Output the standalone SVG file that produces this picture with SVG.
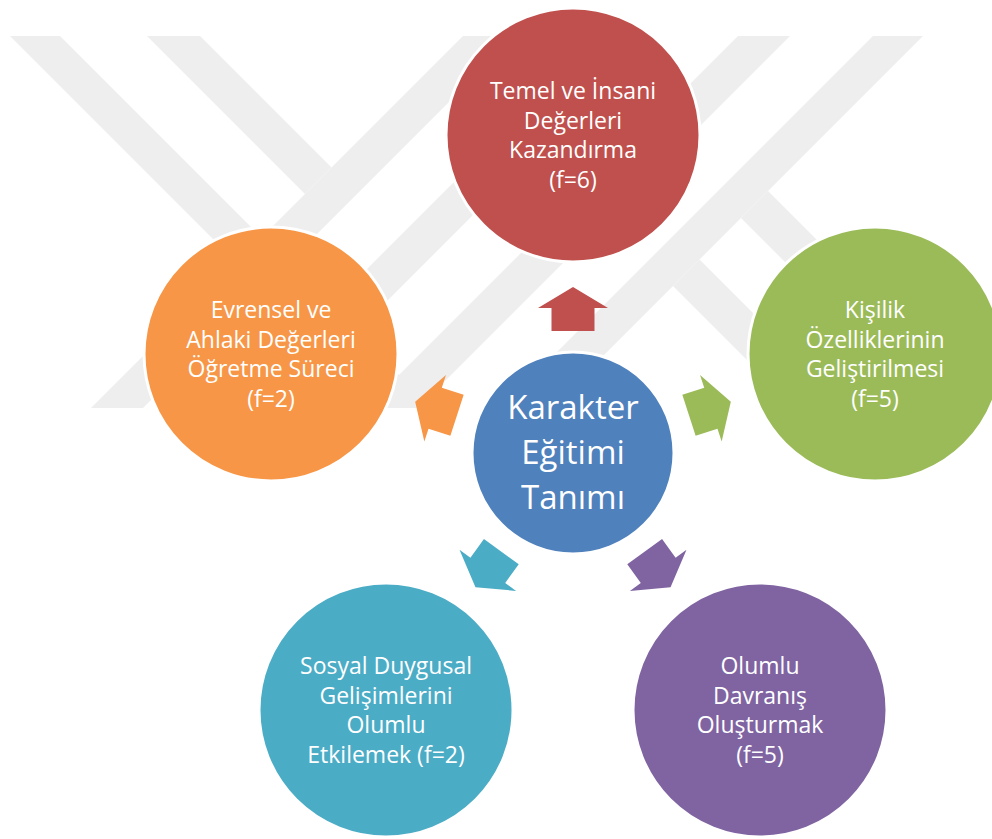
<svg xmlns="http://www.w3.org/2000/svg" width="992" height="839" viewBox="0 0 992 839">
<defs>
<style>
.wm{fill:#eeeeee}
.node circle{stroke:#ffffff;stroke-width:3}
.lbl{font-family:"Open Sans","Noto Sans",sans-serif;font-size:23px;fill:#ffffff;text-anchor:middle}
.ctr{font-size:33px}
</style>
<path id="arr" d="M0,-22 L35,-1 L21.5,-1 L21.5,22 L-21.5,22 L-21.5,-1 L-35,-1 Z"/>
<clipPath id="wmclip"><rect x="0" y="36" width="992" height="372"/></clipPath>
</defs>
<rect width="992" height="839" fill="#ffffff"/>
<g id="watermark" class="wm" clip-path="url(#wmclip)">
<polygon points="10,36 60,36 432,408 382,408"/>
<polygon points="147,36 200,36 331.5,167.5 305,194"/>
<polygon points="463,36 515,36 143,408 91,408"/>
<polygon points="600,36 652,36 280,408 228,408"/>
<polygon points="738,36 790,36 418,408 366,408"/>
<polygon points="873,36 923,36 551,408 501,408"/>
<polygon points="768,191 741,218 931,408 985,408"/>
<polygon points="699.5,259.5 673,286 795,408 848,408"/>
</g>
<g id="connectors">
<use href="#arr" fill="#c0504d" transform="translate(573,309)"/>
<use href="#arr" fill="#9bbb59" transform="translate(709.9,408.5) rotate(72)"/>
<use href="#arr" fill="#8064a2" transform="translate(657.6,569.5) rotate(144)"/>
<use href="#arr" fill="#4bacc6" transform="translate(488.4,569.5) rotate(216)"/>
<use href="#arr" fill="#f79646" transform="translate(436.1,408.5) rotate(288)"/>
</g>
<g id="node-temel" class="node">
<circle cx="573" cy="135" r="127" fill="#c0504d"/>
<text class="lbl" x="573" y="99">Temel ve İnsani</text>
<text class="lbl" x="573" y="128.5">Değerleri</text>
<text class="lbl" x="573" y="158">Kazandırma</text>
<text class="lbl" x="573" y="187.5">(f=6)</text>
</g>
<g id="node-kisilik" class="node">
<circle cx="875" cy="354" r="127" fill="#9bbb59"/>
<text class="lbl" x="875" y="318">Kişilik</text>
<text class="lbl" x="875" y="347.5">Özelliklerinin</text>
<text class="lbl" x="875" y="377">Geliştirilmesi</text>
<text class="lbl" x="875" y="406.5">(f=5)</text>
</g>
<g id="node-olumlu" class="node">
<circle cx="760" cy="710" r="127" fill="#8064a2"/>
<text class="lbl" x="760" y="674">Olumlu</text>
<text class="lbl" x="760" y="703.5">Davranış</text>
<text class="lbl" x="760" y="733">Oluşturmak</text>
<text class="lbl" x="760" y="762.5">(f=5)</text>
</g>
<g id="node-sosyal" class="node">
<circle cx="386" cy="710" r="127" fill="#4bacc6"/>
<text class="lbl" x="386" y="674">Sosyal Duygusal</text>
<text class="lbl" x="386" y="703.5">Gelişimlerini</text>
<text class="lbl" x="386" y="733">Olumlu</text>
<text class="lbl" x="386" y="762.5">Etkilemek (f=2)</text>
</g>
<g id="node-evrensel" class="node">
<circle cx="271" cy="354" r="127" fill="#f79646"/>
<text class="lbl" x="271" y="318">Evrensel ve</text>
<text class="lbl" x="271" y="347.5">Ahlaki Değerleri</text>
<text class="lbl" x="271" y="377">Öğretme Süreci</text>
<text class="lbl" x="271" y="406.5">(f=2)</text>
</g>
<g id="node-karakter" class="node">
<circle cx="573" cy="453" r="101" fill="#4f81bd"/>
<text class="lbl ctr" x="573" y="419">Karakter</text>
<text class="lbl ctr" x="573" y="464">Eğitimi</text>
<text class="lbl ctr" x="573" y="509">Tanımı</text>
</g>
</svg>
